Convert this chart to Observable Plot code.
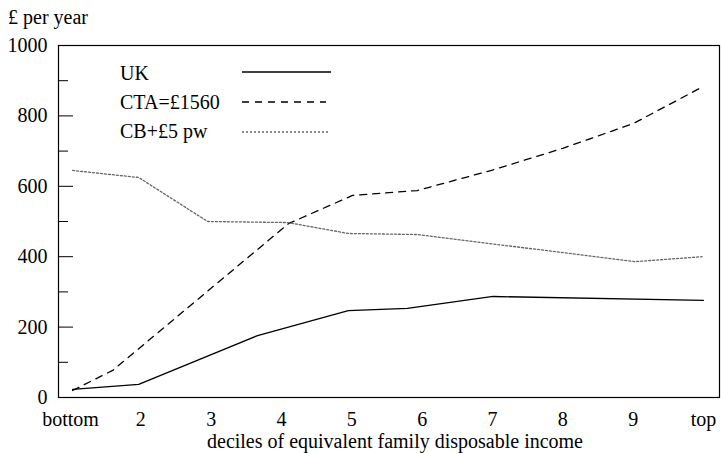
<!DOCTYPE html>
<html><head><meta charset="utf-8">
<script src="https://cdn.jsdelivr.net/npm/d3@7"></script>
<script src="https://cdn.jsdelivr.net/npm/@observablehq/plot@0.6"></script>
<style>
body{margin:0;background:#fff;font-family:"Times New Roman","Liberation Serif",serif;}
#wrap{position:relative;width:721px;height:453px;font-family:"Times New Roman","Liberation Serif",serif;}
#wrap svg{display:block;}
.overlay{position:absolute;left:0;top:0;pointer-events:none;}
.lbl{position:absolute;font-size:20px;line-height:20px;white-space:nowrap;color:#000;font-family:"Times New Roman","Liberation Serif",serif;}
</style></head><body>
<div id="wrap"></div>
<script>
// ---- data ----
const deciles = [1,2,3,4,5,6,7,8,9,10];
const decileLabels = ["bottom","2","3","4","5","6","7","8","9","top"];
const ukX  = [1.03,1.97,3.66,4.95,5.79,7.01,10.0];
const ukY  = [23,37,176,247,253,287,276];
const ctaX = [1.03,1.6,4.1,5.01,5.93,7.0,8.0,9.0,10.0];
const ctaY = [20,77,494,574,588,646,708,778,884];
const cbX  = [1.03,1.97,2.95,4.09,4.95,5.93,9.03,9.98];
const cbY  = [645,625,500,497,466,463,386,400];
const yMajor = [0,200,400,600,800,1000];
const yMinor = [100,300,500,700,900];
const seriesNames = ["UK","CTA=£1560","CB+£5 pw"];
const yTitle = "£ per year";
const xTitle = "deciles of equivalent family disposable income";

// ---- styles ----
const FONT = "Times New Roman, Liberation Serif, serif";
const styles = [
  {stroke:"#000", strokeWidth:1.3, dash:null},
  {stroke:"#000", strokeWidth:1.3, dash:"7,6"},
  {stroke:"#666", strokeWidth:1.3, dash:"2,2"}
];
const toRows = (xs, ys) => xs.map((x,i)=>({x, y: ys[i]}));
const series = [toRows(ukX,ukY), toRows(ctaX,ctaY), toRows(cbX,cbY)];

const chart = Plot.plot({
  width:721, height:453,
  marginLeft:58, marginRight:2, marginTop:45, marginBottom:56,
  style:{fontFamily:FONT, fontSize:"20px", color:"#000", background:"#fff"},
  x:{domain:[0.8294,10.228]},
  y:{domain:[0,1000]},
  marks:[
    Plot.axisX(deciles, {tickSize:0, tickPadding:14, tickFormat:d=>decileLabels[d-1], label:null, fontSize:20, fontFamily:FONT}),
    Plot.axisY(yMajor, {tickSize:0, tickPadding:11, tickFormat:d=>String(d), label:null, fontSize:20, fontFamily:FONT}),
    Plot.axisY(yMajor, {tickSize:-15, tickFormat:()=>"", label:null, stroke:"#000"}),
    Plot.axisY(yMinor, {tickSize:-10, tickFormat:()=>"", label:null, stroke:"#000"}),
    ...series.map((d,i)=>Plot.line(d, {x:"x", y:"y", stroke:styles[i].stroke, strokeWidth:styles[i].strokeWidth, strokeDasharray:styles[i].dash})),
    Plot.frame({stroke:"#000", strokeWidth:1.2})
  ]
});
const wrap = document.getElementById("wrap");
wrap.appendChild(chart);

// titles (HTML) : baseline ≈ top + 16
function addLabel(text, left, top, center) {
  const el = document.createElement("div");
  el.className = "lbl";
  el.textContent = text;
  el.style.left = left + "px";
  el.style.top = top + "px";
  if (center) el.style.transform = "translateX(-50%)";
  wrap.appendChild(el);
}
addLabel(yTitle, 8, 7, false);
addLabel(xTitle, 395, 431, true);
const legTop = [63,92,121], legLineY = [72,102,132], legEnd = [331,326,330];
seriesNames.forEach((name,i)=>addLabel(name, 120, legTop[i], false));

// legend keys
const ov = d3.create("svg").attr("class","overlay").attr("width",721).attr("height",453);
seriesNames.forEach((name,i)=>{
  ov.append("line").attr("x1",242).attr("x2",legEnd[i]).attr("y1",legLineY[i]).attr("y2",legLineY[i])
    .attr("stroke",styles[i].stroke).attr("stroke-width",styles[i].strokeWidth)
    .attr("stroke-dasharray",styles[i].dash);
});
wrap.appendChild(ov.node());
</script>
</body></html>
